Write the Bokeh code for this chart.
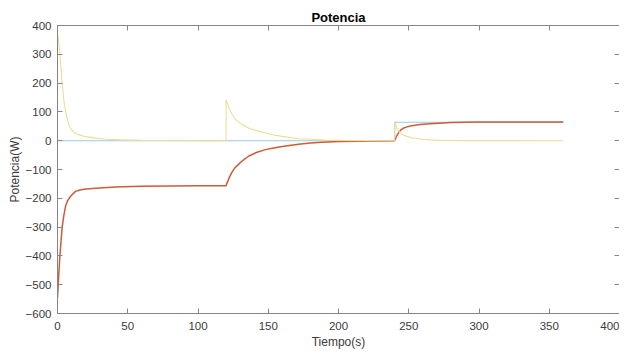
from bokeh.plotting import figure
from bokeh.models import LinearAxis, Range1d, FixedTicker, CustomJSTickFormatter
from bokeh.embed import file_html
from bokeh.resources import INLINE

# Series: blue (step reference)
t_blue = [0, 240, 240, 360]
p_blue = [0, 0, 64, 64]

# Series: orange
t_orange = [0, 0.5, 1, 1.7, 2.5, 3.3, 4.5, 5.7, 7, 9.3, 12.8, 16, 20, 30, 41, 60, 80, 100, 120,
            121, 122, 124, 126, 128.6, 132, 136, 142, 148, 154, 160, 171.5, 180, 188, 200, 215, 230, 240,
            241, 242, 244, 246, 248.7, 252, 258, 265, 272, 280, 290, 300, 360]
p_orange = [-545, -500, -455, -402, -350, -301, -260, -228, -210, -193, -176, -171, -168, -164, -161, -158, -157, -156, -156,
            -143, -131, -111, -96, -83, -68, -54, -40, -31, -25, -20, -12, -8, -5, -3, -1.5, -0.8, -0.5,
            12, 22, 36, 43, 48, 52, 56, 59, 61, 63, 64, 64.5, 64.5]

# Series: yellow
t_yellow = [0, 0.8, 1.7, 2.5, 3.3, 4.5, 5.7, 7, 8.5, 10, 12, 15, 20, 27, 35, 45, 60, 80, 100, 120,
            120, 121, 123, 126.7, 130, 136, 142, 148, 154, 160, 171.5, 180, 190, 200, 220, 240,
            240, 242, 244, 246, 248.7, 252, 258, 265, 272, 290, 360]
p_yellow = [375, 340, 304, 250, 200, 140, 102, 75, 50, 38, 28, 21, 14, 9, 5, 3, 1, 0.5, 0.2, 0,
            142, 128, 102, 73, 60, 44, 34, 27, 20, 15, 7, 5, 2, 1, 0.3, 0,
            64, 40, 27, 20, 15, 10, 6, 3, 1, 0.3, 0]

x_ticks = [0, 50, 100, 150, 200, 250, 300, 350, 400]
y_ticks = [-600, -500, -400, -300, -200, -100, 0, 100, 200, 300, 400]

AX = "#858585"
LBL = "#3a3a3a"
FONT = "Liberation Sans"

p = figure(frame_width=562, frame_height=288, output_backend="svg", toolbar_location=None,
           x_range=Range1d(0, 400), y_range=Range1d(-600, 400),
           min_border_left=57, min_border_right=0, min_border_top=25, min_border_bottom=0,
           title="Potencia")
p.title.align = "center"
p.title.text_font = FONT
p.title.text_font_size = "13px"
p.title.text_font_style = "bold"
p.title.text_color = "#000000"
p.title.standoff = 2
p.outline_line_color = None
p.grid.visible = False
p.background_fill_color = "white"
p.border_fill_color = "white"

def style(ax, ticks, labels=True):
    ax.ticker = FixedTicker(ticks=ticks)
    ax.axis_line_color = AX
    ax.major_tick_line_color = AX
    ax.major_tick_in = 5
    ax.major_tick_out = 0
    ax.minor_tick_line_color = None
    ax.major_label_text_font = FONT
    ax.major_label_text_font_size = "11.5px"
    ax.major_label_text_color = LBL
    ax.axis_label_text_font = FONT
    ax.axis_label_text_font_size = "12px"
    ax.axis_label_text_font_style = "normal"
    ax.axis_label_text_color = LBL
    if not labels:
        ax.formatter = CustomJSTickFormatter(code="return ''")
        ax.major_label_standoff = 0

style(p.xaxis[0], x_ticks)
style(p.yaxis[0], y_ticks)
p.xaxis[0].axis_label = "Tiempo(s)"
p.yaxis[0].axis_label = "Potencia(W)"
p.xaxis[0].major_label_standoff = 8
p.xaxis[0].axis_label_standoff = 2
p.yaxis[0].major_label_standoff = 6
p.yaxis[0].axis_label_standoff = 1

top = LinearAxis()
style(top, x_ticks, labels=False)
p.add_layout(top, "above")
right = LinearAxis()
style(right, y_ticks, labels=False)
p.add_layout(right, "right")

p.line(t_blue, p_blue, line_color="#9cc8e6", line_width=1.1)
p.line(t_orange, p_orange, line_color="#cd5b38", line_width=1.5)
p.line(t_yellow, p_yellow, line_color="#ecdd9a", line_width=1.1)

open("out.html", "w").write(file_html(p, INLINE))
